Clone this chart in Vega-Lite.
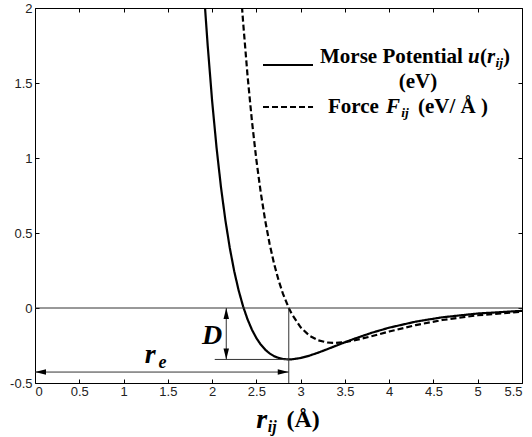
{
  "$schema": "https://vega.github.io/schema/vega-lite/v6.json",
  "width": 487,
  "height": 375,
  "autosize": {"type": "none"},
  "padding": {"left": 35, "top": 8, "right": 10, "bottom": 54},
  "background": "white",
  "config": {
    "view": {"stroke": "#000", "strokeWidth": 1},
    "axis": {"grid": false, "domain": false, "tickColor": "#000", "tickSize": -4, "labelFont": "Liberation Sans", "labelFontSize": 13, "labelColor": "#222"}
  },
  "layer": [
    {
      "data": {"values": [
        {"r": 1.90, "v": 2.187, "s": "Morse"}, {"r": 1.92, "v": 2.004, "s": "Morse"}, {"r": 1.95, "v": 1.753, "s": "Morse"},
        {"r": 2.0, "v": 1.383, "s": "Morse"}, {"r": 2.05, "v": 1.071, "s": "Morse"}, {"r": 2.1, "v": 0.807, "s": "Morse"},
        {"r": 2.15, "v": 0.586, "s": "Morse"}, {"r": 2.2, "v": 0.400, "s": "Morse"}, {"r": 2.25, "v": 0.245, "s": "Morse"},
        {"r": 2.3, "v": 0.117, "s": "Morse"}, {"r": 2.35, "v": 0.011, "s": "Morse"}, {"r": 2.4, "v": -0.075, "s": "Morse"},
        {"r": 2.45, "v": -0.1448, "s": "Morse"}, {"r": 2.5, "v": -0.2006, "s": "Morse"}, {"r": 2.55, "v": -0.2443, "s": "Morse"},
        {"r": 2.6, "v": -0.2779, "s": "Morse"}, {"r": 2.65, "v": -0.3030, "s": "Morse"}, {"r": 2.7, "v": -0.321, "s": "Morse"},
        {"r": 2.75, "v": -0.3329, "s": "Morse"}, {"r": 2.8, "v": -0.3399, "s": "Morse"}, {"r": 2.866, "v": -0.3429, "s": "Morse"},
        {"r": 2.9, "v": -0.3422, "s": "Morse"}, {"r": 3.0, "v": -0.3334, "s": "Morse"}, {"r": 3.1, "v": -0.3175, "s": "Morse"},
        {"r": 3.2, "v": -0.2973, "s": "Morse"}, {"r": 3.3, "v": -0.2748, "s": "Morse"}, {"r": 3.4, "v": -0.2516, "s": "Morse"},
        {"r": 3.5, "v": -0.2285, "s": "Morse"}, {"r": 3.6, "v": -0.2063, "s": "Morse"}, {"r": 3.8, "v": -0.1657, "s": "Morse"},
        {"r": 4.0, "v": -0.1312, "s": "Morse"}, {"r": 4.3, "v": -0.0908, "s": "Morse"}, {"r": 4.6, "v": -0.0619, "s": "Morse"},
        {"r": 5.0, "v": -0.0367, "s": "Morse"}, {"r": 5.5, "v": -0.0189, "s": "Morse"},
        {"r": 2.33, "v": 2.069, "s": "Force"}, {"r": 2.35, "v": 1.909, "s": "Force"}, {"r": 2.4, "v": 1.551, "s": "Force"},
        {"r": 2.45, "v": 1.2465, "s": "Force"}, {"r": 2.5, "v": 0.9875, "s": "Force"}, {"r": 2.55, "v": 0.7678, "s": "Force"},
        {"r": 2.6, "v": 0.5824, "s": "Force"}, {"r": 2.65, "v": 0.4263, "s": "Force"}, {"r": 2.7, "v": 0.2954, "s": "Force"},
        {"r": 2.75, "v": 0.1863, "s": "Force"}, {"r": 2.8, "v": 0.0956, "s": "Force"}, {"r": 2.866, "v": 0.0, "s": "Force"},
        {"r": 2.9, "v": -0.0401, "s": "Force"}, {"r": 3.0, "v": -0.1293, "s": "Force"}, {"r": 3.1, "v": -0.1847, "s": "Force"},
        {"r": 3.2, "v": -0.2159, "s": "Force"}, {"r": 3.3, "v": -0.2302, "s": "Force"}, {"r": 3.4, "v": -0.2327, "s": "Force"},
        {"r": 3.5, "v": -0.2274, "s": "Force"}, {"r": 3.6, "v": -0.2169, "s": "Force"}, {"r": 3.8, "v": -0.1883, "s": "Force"},
        {"r": 4.0, "v": -0.1568, "s": "Force"}, {"r": 4.3, "v": -0.1139, "s": "Force"}, {"r": 4.6, "v": -0.0800, "s": "Force"},
        {"r": 5.0, "v": -0.0485, "s": "Force"}, {"r": 5.5, "v": -0.0253, "s": "Force"}
      ]},
      "mark": {"type": "line", "clip": true, "color": "#000", "strokeWidth": 2.2},
      "encoding": {
        "x": {"field": "r", "type": "quantitative", "scale": {"domain": [0, 5.5], "nice": false, "zero": false},
              "axis": {"orient": "bottom", "values": [0, 0.5, 1, 1.5, 2, 2.5, 3, 3.5, 4, 4.5, 5, 5.5], "labelExpr": "'' + datum.value", "labelPadding": 6, "title": null}},
        "y": {"field": "v", "type": "quantitative", "scale": {"domain": [-0.5, 2], "nice": false, "zero": false},
              "axis": {"orient": "left", "values": [-0.5, 0, 0.5, 1, 1.5, 2], "labelExpr": "'' + datum.value", "labelPadding": 7, "title": null}},
        "strokeDash": {"field": "s", "type": "nominal", "scale": {"domain": ["Morse", "Force"], "range": [[1, 0], [6, 3]]}, "legend": null},
        "detail": {"field": "s"}
      }
    },
    {
      "data": {"values": [
        {"x": 0, "x2": 5.5, "y": 0, "y2": 0},
        {"x": 2.866, "x2": 2.866, "y": -0.5, "y2": 0},
        {"x": 2.03, "x2": 2.866, "y": -0.343, "y2": -0.343},
        {"x": 2.16, "x2": 2.16, "y": 0, "y2": -0.343},
        {"x": 0, "x2": 2.866, "y": -0.427, "y2": -0.427}
      ]},
      "mark": {"type": "rule", "color": "#333", "strokeWidth": 1},
      "encoding": {
        "x": {"field": "x", "type": "quantitative", "axis": {"orient": "top", "values": [0, 0.5, 1, 1.5, 2, 2.5, 3, 3.5, 4, 4.5, 5, 5.5], "labels": false, "title": null}},
        "x2": {"field": "x2"},
        "y": {"field": "y", "type": "quantitative", "axis": {"orient": "right", "values": [-0.5, 0, 0.5, 1, 1.5, 2], "labels": false, "title": null}},
        "y2": {"field": "y2"}
      }
    },
    {
      "data": {"values": [
        {"x": 2.16, "y": 0, "dir": "up"},
        {"x": 2.16, "y": -0.343, "dir": "down"},
        {"x": 0, "y": -0.427, "dir": "left"},
        {"x": 2.866, "y": -0.427, "dir": "right"}
      ]},
      "mark": {"type": "point", "filled": true, "color": "#000", "opacity": 1, "size": 100},
      "encoding": {
        "x": {"field": "x", "type": "quantitative", "axis": null},
        "y": {"field": "y", "type": "quantitative", "axis": null},
        "shape": {"field": "dir", "type": "nominal", "legend": null,
                  "scale": {"domain": ["up", "down", "left", "right"],
                            "range": ["M0,0L-0.55,2.2L0.55,2.2Z", "M0,0L-0.55,-2.2L0.55,-2.2Z", "M0,0L2.2,-0.55L2.2,0.55Z", "M0,0L-2.2,-0.55L-2.2,0.55Z"]}}
      }
    },
    {
      "data": {"values": [
        {"x": 2.575, "x2": 3.14, "y": 1.62, "s": "Morse"},
        {"x": 2.575, "x2": 3.14, "y": 1.34, "s": "Force"}
      ]},
      "mark": {"type": "rule", "color": "#000", "strokeWidth": 2},
      "encoding": {
        "x": {"field": "x", "type": "quantitative", "axis": null},
        "x2": {"field": "x2"},
        "y": {"field": "y", "type": "quantitative", "axis": null},
        "strokeDash": {"field": "s", "type": "nominal", "legend": null}
      }
    },
    {
      "data": {"values": [
        {"x": 3.219, "y": 1.673, "t": "Morse Potential"},
        {"x": 5.026, "y": 1.673, "t": "("},
        {"x": 5.285, "y": 1.673, "t": ")"},
        {"x": 3.309, "y": 1.34, "t": "Force"},
        {"x": 4.325, "y": 1.34, "t": "(eV/ Å )"}
      ]},
      "mark": {"type": "text", "align": "left", "baseline": "middle", "font": "Liberation Serif", "fontSize": 21, "fontWeight": "bold", "color": "#000"},
      "encoding": {
        "x": {"field": "x", "type": "quantitative", "axis": null},
        "y": {"field": "y", "type": "quantitative", "axis": null},
        "text": {"field": "t"}
      }
    },
    {
      "data": {"values": [
        {"x": 4.89, "y": 1.673, "t": "u"},
        {"x": 5.105, "y": 1.673, "t": "r"},
        {"x": 3.964, "y": 1.34, "t": "F"}
      ]},
      "mark": {"type": "text", "align": "left", "baseline": "middle", "font": "Liberation Serif", "fontSize": 21, "fontWeight": "bold", "fontStyle": "italic", "color": "#000"},
      "encoding": {
        "x": {"field": "x", "type": "quantitative", "axis": null},
        "y": {"field": "y", "type": "quantitative", "axis": null},
        "text": {"field": "t"}
      }
    },
    {
      "data": {"values": [
        {"x": 5.201, "y": 1.633, "t": "ij"},
        {"x": 4.135, "y": 1.30, "t": "ij"}
      ]},
      "mark": {"type": "text", "align": "left", "baseline": "middle", "font": "Liberation Serif", "fontSize": 13.5, "fontWeight": "bold", "fontStyle": "italic", "color": "#000"},
      "encoding": {
        "x": {"field": "x", "type": "quantitative", "axis": null},
        "y": {"field": "y", "type": "quantitative", "axis": null},
        "text": {"field": "t"}
      }
    },
    {
      "data": {"values": [{"x": 4.325, "y": 1.507, "t": "(eV)"}]},
      "mark": {"type": "text", "align": "center", "baseline": "middle", "font": "Liberation Serif", "fontSize": 21, "fontWeight": "bold", "color": "#000"},
      "encoding": {
        "x": {"field": "x", "type": "quantitative", "axis": null},
        "y": {"field": "y", "type": "quantitative", "axis": null},
        "text": {"field": "t"}
      }
    },
    {
      "data": {"values": [{"x": 2.0, "y": -0.187, "t": "D"}, {"x": 1.3, "y": -0.313, "t": "r"}, {"x": 2.56, "y": -0.747, "t": "r"}]},
      "mark": {"type": "text", "align": "center", "baseline": "middle", "font": "Liberation Serif", "fontSize": 28, "fontWeight": "bold", "fontStyle": "italic", "color": "#000"},
      "encoding": {
        "x": {"field": "x", "type": "quantitative", "axis": null},
        "y": {"field": "y", "type": "quantitative", "axis": null},
        "text": {"field": "t"}
      }
    },
    {
      "data": {"values": [{"x": 1.44, "y": -0.367, "t": "e"}]},
      "mark": {"type": "text", "align": "center", "baseline": "middle", "font": "Liberation Serif", "fontSize": 18, "fontWeight": "bold", "fontStyle": "italic", "color": "#000"},
      "encoding": {
        "x": {"field": "x", "type": "quantitative", "axis": null},
        "y": {"field": "y", "type": "quantitative", "axis": null},
        "text": {"field": "t"}
      }
    },
    {
      "data": {"values": [{"x": 2.63, "y": -0.79, "t": "ij"}]},
      "mark": {"type": "text", "align": "left", "baseline": "middle", "font": "Liberation Serif", "fontSize": 16, "fontWeight": "bold", "fontStyle": "italic", "color": "#000"},
      "encoding": {
        "x": {"field": "x", "type": "quantitative", "axis": null},
        "y": {"field": "y", "type": "quantitative", "axis": null},
        "text": {"field": "t"}
      }
    },
    {
      "data": {"values": [{"x": 2.84, "y": -0.747, "t": "(Å)"}]},
      "mark": {"type": "text", "align": "left", "baseline": "middle", "font": "Liberation Serif", "fontSize": 24, "fontWeight": "bold", "color": "#000"},
      "encoding": {
        "x": {"field": "x", "type": "quantitative", "axis": null},
        "y": {"field": "y", "type": "quantitative", "axis": null},
        "text": {"field": "t"}
      }
    }
  ]
}
